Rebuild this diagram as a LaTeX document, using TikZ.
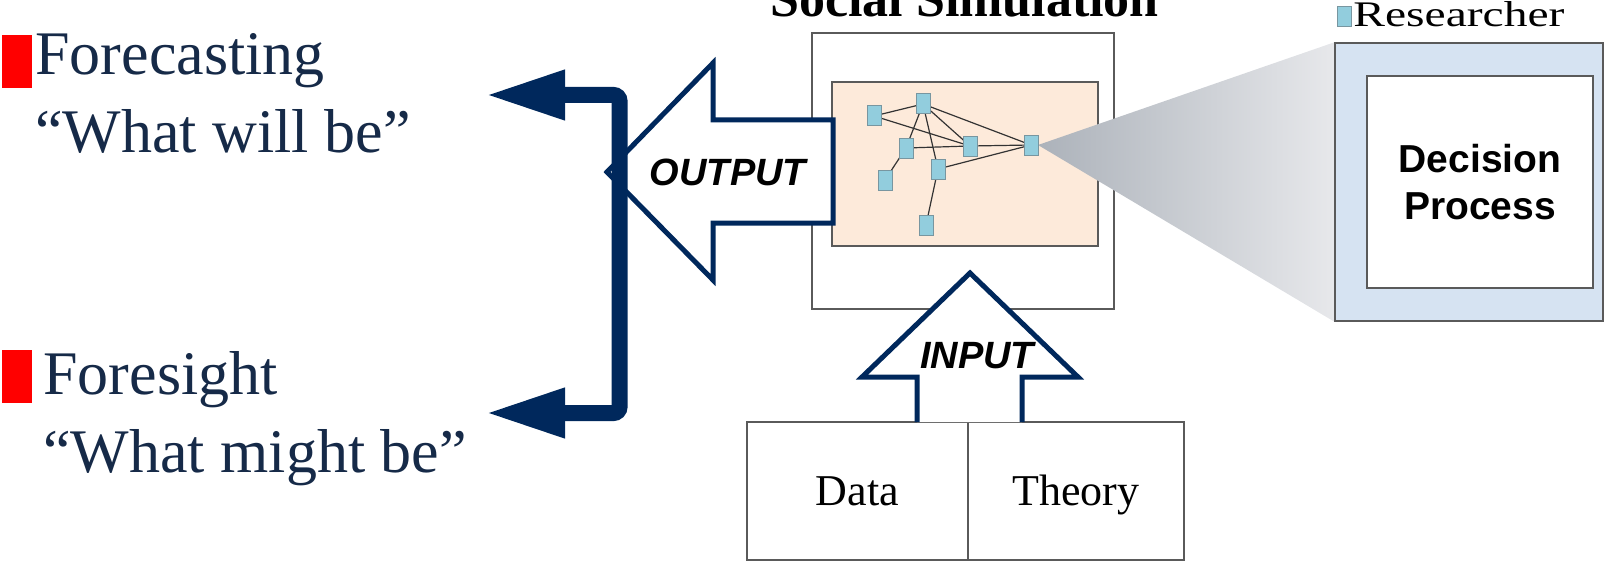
\documentclass[tikz,border=0pt]{standalone}
\usepackage{fontspec}
\setmainfont{Liberation Serif}
\setsansfont{Liberation Sans}
\usepackage{tikz}
\usetikzlibrary{arrows.meta}

\definecolor{navy}{RGB}{0,40,92}
\definecolor{inknavy}{RGB}{22,42,72}
\definecolor{peach}{RGB}{253,234,218}
\definecolor{agentblue}{RGB}{146,205,221}
\definecolor{agentedge}{RGB}{120,150,160}
\definecolor{resblue}{RGB}{214,227,242}
\definecolor{boxgray}{RGB}{90,90,90}
\definecolor{beamleft}{RGB}{172,178,186}
\definecolor{beammid}{RGB}{182,201,228}
\definecolor{beamright}{RGB}{231,232,235}

\begin{document}
\begin{tikzpicture}[x=0.5pt, y=-0.5pt,
  label/.style={anchor=base west, inner sep=0pt, text=inknavy,
    font=\fontsize{31}{32}\selectfont},
  bullet/.style={fill=red},
  box/.style={draw=boxgray, line width=0.7pt, inner sep=0pt},
  agent/.style={draw=agentedge, fill=agentblue, line width=0.5pt,
    minimum width=7pt, minimum height=10pt, inner sep=0pt},
  link/.style={draw=black!80, line width=0.6pt},
  bigarrow/.style={draw=navy, fill=white, line width=2.5pt, line join=miter},
  arrowtext/.style={inner sep=0pt, font=\fontsize{19}{20}\sffamily\bfseries\itshape\selectfont},
  bracket/.style={draw=navy, line width=8pt, rounded corners=3pt,
    {Triangle[length=40pt,width=23pt]}-{Triangle[length=40pt,width=23pt]}}
]
  \useasboundingbox (0,0) rectangle (1605,567);

  \fill[bullet] (2,35) rectangle (32,88);
  \node[label] (fc) at (35,75) {Forecasting};
  \node[label] (fcq) at (35,153) {``What will be''};
  \fill[bullet] (2,350) rectangle (32,403);
  \node[label] (fs) at (43,394) {Foresight};
  \node[label] (fsq) at (43,472) {``What might be''};

  \node[anchor=base, inner sep=0pt, font=\fontsize{26}{27}\bfseries\selectfont]
    (title) at (964.5,17) {Social Simulation};
  \node[box, minimum width=151pt, minimum height=138pt] (sim) at (963,171) {};
  \node[box, fill=peach, minimum width=133pt, minimum height=82pt] (net) at (965,164) {};

  \node[box, fill=resblue, minimum width=134pt, minimum height=139pt] (res) at (1469,182) {};
  \node[box, fill=white, minimum width=113pt, minimum height=106pt, align=center,
    font=\fontsize{19.5}{23.5}\sffamily\bfseries\selectfont] (dec) at (1480,182) {Decision\\Process};

  \foreach \n/\x/\y in {a1/874/116, a2/923/104, a3/906/148, a4/970/146,
                        a5/1031/145, a6/938/169, a7/885/180, a8/926/225}
    \coordinate (\n) at (\x,\y);
  \shade[left color=beamleft, middle color=beammid, right color=beamright]
    (1038,145) -- (res.north west) -- (res.south west) -- cycle;
  \foreach \u/\v in {a1/a2, a1/a4, a2/a3, a2/a4, a2/a6, a2/a5,
                     a3/a4, a4/a5, a6/a5, a3/a7, a6/a8}
    \draw[link] (\u) -- (\v);
  \foreach \n in {a1,a2,a3,a4,a5,a6,a7,a8}
    \node[agent] at (\n) {};

  \node[agent] (key) at (1344,16.5) {};
  \node[anchor=base west, inner sep=0pt, font=\fontsize{18}{19}\selectfont]
    (keytext) at (1353,27) {\scalebox{1.32}[1]{Researcher}};

  \draw[bigarrow] (607,172) -- (713,63) -- (713,120) -- (833,120)
    -- (833,223) -- (713,223) -- (713,280) -- cycle;
  \node[arrowtext] (out) at (728,172) {OUTPUT};

  \coordinate (top) at (485,95);
  \coordinate (bot) at (485,413);
  \draw[bracket] (top) -- (619.5,95) -- (619.5,413) -- (bot);

  \node[box, minimum width=110.5pt, minimum height=69pt, text height=14.5pt, text depth=0pt,
    font=\fontsize{22}{24}\selectfont] (data) at (857.5,491) {Data};
  \node[box, minimum width=108pt, minimum height=69pt, text height=14.5pt, text depth=0pt,
    font=\fontsize{22}{24}\selectfont] (theory) at (1076,491) {Theory};

  \filldraw[bigarrow] (917,422) -- (917,377) -- (862,377) -- (970,273)
    -- (1078,377) -- (1022,377) -- (1022,422);
  \node[arrowtext] (in) at (977,356) {INPUT};
\end{tikzpicture}
\end{document}
